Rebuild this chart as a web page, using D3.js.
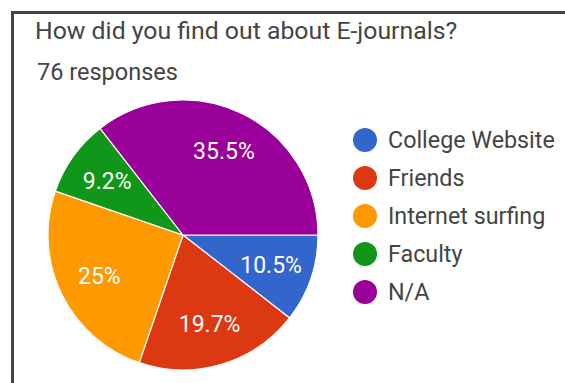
<html>
<head>
<script src="https://cdn.jsdelivr.net/npm/d3@7"></script>
<style>
	body { margin: 0; background: #fff; }
	text { font-family: Roboto, Arial, sans-serif; }
</style>
</head>
<body>
<div id="chart"></div>
<script>
var title = "How did you find out about E-journals?"
var subtitle = "76 responses"
var categories = ["College Website", "Friends", "Internet surfing", "Faculty", "N/A"]
var counts = [8, 15, 19, 7, 27]
var labels = ["10.5%", "19.7%", "25%", "9.2%", "35.5%"]
var colors = ["#3366cc", "#dc3912", "#ff9900", "#109618", "#990099"]

var width = 565
var height = 383
var cx = 183
var cy = 235
var radius = 135

var svg = d3.select("#chart")
	.append("svg")
	.attr("width", width)
	.attr("height", height)

// frame, runs off the right and bottom edge
svg.append("rect")
	.attr("x", 12.5)
	.attr("y", 12.5)
	.attr("width", 600)
	.attr("height", 400)
	.style("fill", "none")
	.style("stroke", "#444")
	.style("stroke-width", 3)

svg.append("text")
	.attr("x", 35)
	.attr("y", 39)
	.style("font-size", "24.8px")
	.style("fill", "#444")
	.text(title)

svg.append("text")
	.attr("x", 37)
	.attr("y", 80)
	.style("font-size", "23.5px")
	.style("fill", "#444")
	.text(subtitle)

var color = d3.scaleOrdinal().domain(categories).range(colors)

var pie = d3.pie()
	.sort(null)
	.value(function(d){ return d.count })
	.startAngle(Math.PI / 2)
	.endAngle(Math.PI / 2 + 2 * Math.PI)

var data = categories.map(function(c, i){
	return { name: c, count: counts[i], label: labels[i] }
})

var arc = d3.arc().innerRadius(0).outerRadius(radius)
var labelArc = d3.arc().innerRadius(radius * 0.69).outerRadius(radius * 0.69)

var g = svg.append("g").attr("transform", "translate(" + cx + "," + cy + ")")

var slices = g.selectAll(".slice")
	.data(pie(data))
	.enter()
	.append("g")
	.attr("class", "slice")

slices.append("path")
	.attr("d", arc)
	.style("fill", function(d){ return color(d.data.name) })
	.style("stroke", "#fff")
	.style("stroke-width", 1.2)

slices.append("text")
	.attr("transform", function(d){ return "translate(" + labelArc.centroid(d) + ")" })
	.attr("text-anchor", "middle")
	.attr("dy", "0.35em")
	.style("font-size", "23px")
	.style("fill", "#fff")
	.text(function(d){ return d.data.label })

var legend = svg.append("g").attr("transform", "translate(365,140)")

var item = legend.selectAll(".item")
	.data(categories)
	.enter()
	.append("g")
	.attr("class", "item")
	.attr("transform", function(d, i){ return "translate(0," + (i * 38) + ")" })

item.append("circle")
	.attr("r", 12)
	.style("fill", function(d){ return color(d) })

item.append("text")
	.attr("x", 23)
	.attr("y", 8)
	.style("font-size", "23.3px")
	.style("fill", "#444")
	.text(function(d){ return d })
</script>
</body>
</html>
